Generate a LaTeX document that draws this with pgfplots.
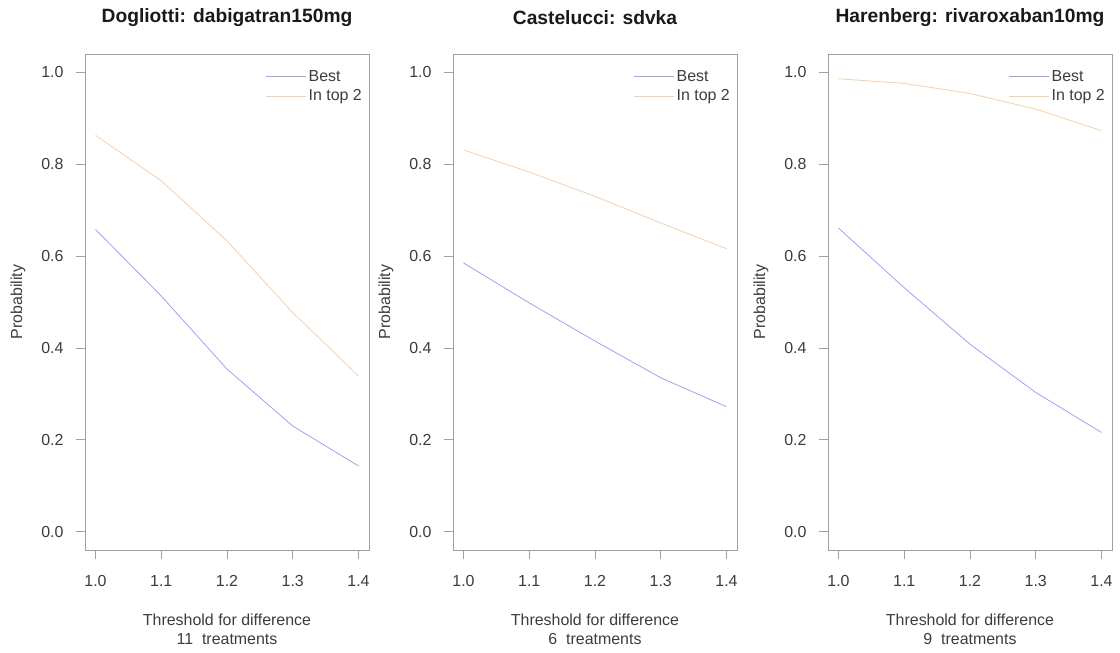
\documentclass[border=0pt]{standalone}
\usepackage{fontspec}
\setmainfont{Liberation Sans}
\usepackage{pgfplots}
\usepackage{pgfplotstable}
\pgfplotsset{compat=1.18}

\definecolor{bestcol}{RGB}{160,160,240}
\definecolor{topcol}{RGB}{245,208,168}
\definecolor{framecol}{RGB}{160,160,160}
\definecolor{txtcol}{RGB}{60,60,60}

\pgfplotstableread{
x best top
1.0 0.658 0.863
1.1 0.513 0.764
1.2 0.354 0.633
1.3 0.230 0.477
1.4 0.143 0.339
}\dataA
\pgfplotstableread{
x best top
1.0 0.585 0.831
1.1 0.498 0.783
1.2 0.415 0.730
1.3 0.335 0.672
1.4 0.272 0.616
}\dataB
\pgfplotstableread{
x best top
1.0 0.661 0.986
1.1 0.531 0.976
1.2 0.408 0.954
1.3 0.303 0.920
1.4 0.216 0.873
}\dataC

\pgfplotsset{
  legend image code/.code={\draw[#1] (0bp,0bp) -- (28bp,0bp); \path (0bp,0bp) -- (40bp,0bp);},
  every axis y label/.style={at={(axis description cs:-0.236,0.5)}, rotate=90, anchor=center,
    font=\fontsize{16}{16}\selectfont, text=txtcol},
  every axis x label/.style={at={(axis description cs:0.5,0)}, anchor=north, yshift=-64bp,
    align=center, inner sep=0pt, font=\fontsize{16}{19}\selectfont, text=txtcol},
  every axis title/.style={at={(axis description cs:0.5,1)}, anchor=center, yshift=36bp,
    font=\fontsize{19.3}{19.3}\selectfont\bfseries, text=black!90},
  rpanel/.style={
    scale only axis,
    width=284bp, height=496bp,
    anchor=south west,
    xmin=0.984, xmax=1.416,
    ymin=-0.04, ymax=1.04,
    xtick={1.0,1.1,1.2,1.3,1.4},
    ytick={0,0.2,0.4,0.6,0.8,1.0},
    tick align=outside,
    major tick length=9bp,
    axis x line*=bottom, axis y line*=left,
    axis line style={framecol, line width=0.7bp},
    tick style={framecol, line width=0.7bp},
    /pgf/number format/.cd, fixed, fixed zerofill, precision=1, assume math mode=true,
    /pgfplots/.cd,
    tick label style={font=\fontsize{16}{16}\selectfont, text=txtcol},
    xticklabel style={yshift=-13bp},
    yticklabel style={xshift=-9bp},
    ylabel={Probability},
    legend style={at={(axis description cs:1,1)}, anchor=north east, xshift=-2bp, yshift=-12bp,
      draw=none, fill=none, font=\fontsize{16}{16}\selectfont,
      row sep=3bp, nodes={inner sep=2bp}},
    legend cell align=left,
    clip=false,
  }
}

\begin{document}
\begin{tikzpicture}
\useasboundingbox (0,0) rectangle (1120bp,653bp);
% Panel 1
\begin{axis}[rpanel, at={(85bp,103bp)},
  title={Dogliotti: dabigatran150mg},
  xlabel={Threshold for difference\\11\ \ treatments}]
\draw[framecol, line width=0.7bp] (rel axis cs:0,0) rectangle (rel axis cs:1,1);
\addplot[color=bestcol, line width=0.8bp] table[x=x,y=best] {\dataA};
\addlegendentry{\textcolor{txtcol}{Best}}
\addplot[color=topcol, line width=0.8bp] table[x=x,y=top] {\dataA};
\addlegendentry{\textcolor{txtcol}{In top 2}}
\end{axis}
% Panel 2
\begin{axis}[rpanel, at={(453bp,103bp)},
  title={Castelucci: sdvka},
  xlabel={Threshold for difference\\6\ \ treatments}]
\draw[framecol, line width=0.7bp] (rel axis cs:0,0) rectangle (rel axis cs:1,1);
\addplot[color=bestcol, line width=0.8bp] table[x=x,y=best] {\dataB};
\addlegendentry{\textcolor{txtcol}{Best}}
\addplot[color=topcol, line width=0.8bp] table[x=x,y=top] {\dataB};
\addlegendentry{\textcolor{txtcol}{In top 2}}
\end{axis}
% Panel 3
\begin{axis}[rpanel, at={(828bp,103bp)},
  title={Harenberg: rivaroxaban10mg},
  xlabel={Threshold for difference\\9\ \ treatments}]
\draw[framecol, line width=0.7bp] (rel axis cs:0,0) rectangle (rel axis cs:1,1);
\addplot[color=bestcol, line width=0.8bp] table[x=x,y=best] {\dataC};
\addlegendentry{\textcolor{txtcol}{Best}}
\addplot[color=topcol, line width=0.8bp] table[x=x,y=top] {\dataC};
\addlegendentry{\textcolor{txtcol}{In top 2}}
\end{axis}
\end{tikzpicture}
\end{document}
